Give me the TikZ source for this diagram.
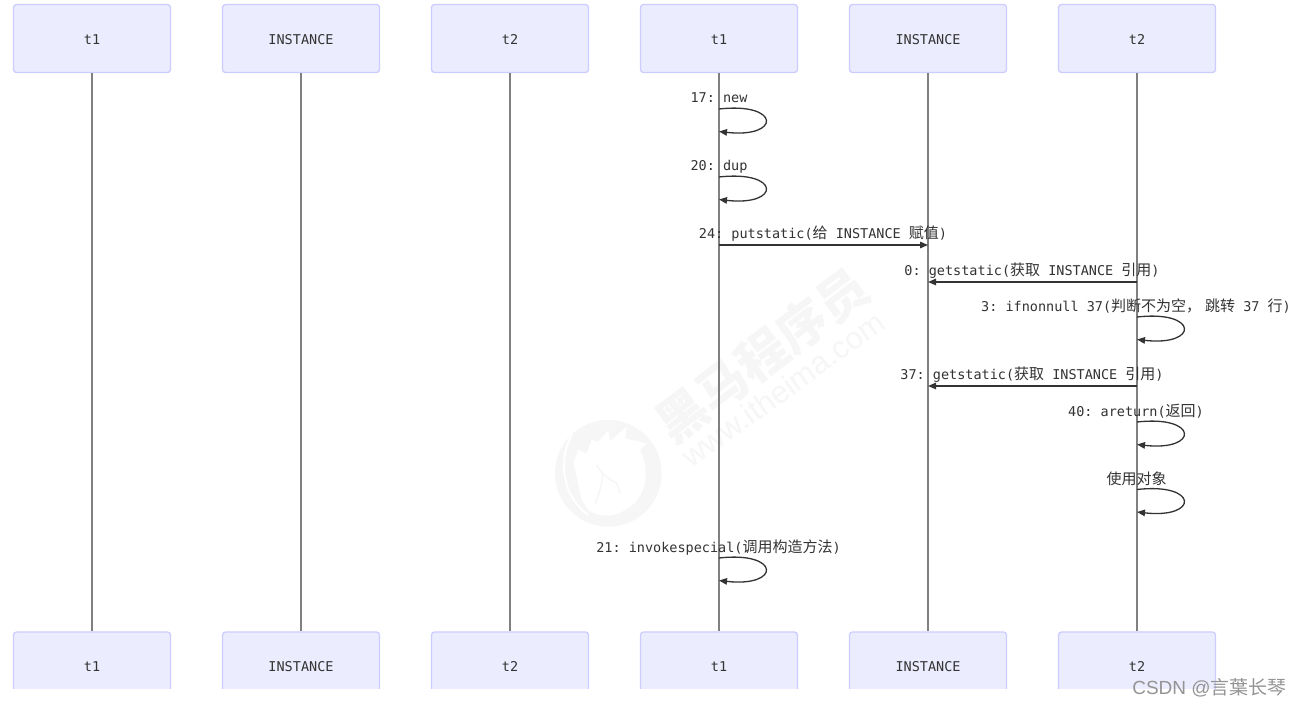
\documentclass[tikz,border=0pt]{standalone}
\usepackage{fontspec}
\setmainfont{DejaVu Sans Mono}
\newfontfamily\cjkfont{Noto Sans CJK SC}
\newfontfamily\wmfont{Liberation Sans}
\usetikzlibrary{arrows.meta}
\newcommand{\cj}[1]{{\cjkfont\fontsize{15}{16}\selectfont #1}}
\definecolor{boxfill}{HTML}{ECECFF}
\definecolor{boxline}{HTML}{CCCCFF}
\definecolor{ink}{HTML}{333333}
\definecolor{lifecol}{HTML}{808080}
\definecolor{wmcol}{HTML}{F6F6F6}
\tikzset{
  x=1pt,y=-1pt,
  actorbox/.style={draw=boxline,fill=boxfill,line width=1.3pt,rounded corners=3pt,minimum width=157pt,minimum height=68pt,inner sep=0pt,text=ink,text height=12pt,text depth=1pt,font=\fontsize{13.5}{16}\selectfont},
  topbox/.style={actorbox,text height=13pt},
  lifeline/.style={draw=lifecol,line width=1.7pt},
  msg/.style={draw=ink,line width=1.4pt,-{Stealth[length=8pt,width=6.5pt,inset=0pt]}},
  loopmsg/.style={draw=ink,line width=1.3pt,-{Stealth[length=8pt,width=6.5pt,inset=0pt]}},
  msglabel/.style={inner sep=0pt,text=ink,text height=12pt,text depth=3pt,font=\frenchspacing\fontsize{13.5}{16}\selectfont,anchor=center},
  wmbig/.style={inner sep=0pt,text=wmcol,rotate=37,font=\cjkfont\bfseries\fontsize{50}{52}\selectfont},
  wmsmall/.style={inner sep=0pt,text=wmcol,rotate=35.6,font=\wmfont\fontsize{31}{33}\selectfont},
  stamp/.style={inner sep=0pt,text=black!42,font=\frenchspacing\wmfont\fontsize{19}{20}\selectfont}
}
\begin{document}
\begin{tikzpicture}
\useasboundingbox (0,0) rectangle (1300,706);
\fill[white] (0,0) rectangle (1300,706);
% faint background watermark: logo
\begin{scope}[shift={(545,410)},x=0.3333pt,y=-0.3333pt]
  \fill[wmcol] (190,190) circle (160);
  \fill[white] (85,160) -- (100,120) -- (125,130) -- (140,90) -- (160,95) -- (190,60) -- (195,95) -- (245,50) -- (240,85) -- (305,100) -- (285,120)
     .. controls (320,190) and (300,270) .. (240,300) .. controls (200,325) and (160,320) .. (130,300)
     -- (110,270) .. controls (100,230) and (95,190) .. (85,160) -- cycle;
  \draw[white,line width=2pt] (82,72) .. controls (45,130) and (40,250) .. (130,315);
  \draw[wmcol,line width=1.5pt] (155,165) .. controls (165,180) and (170,195) .. (215,220) -- (225,250);
  \draw[wmcol,line width=1.5pt] (175,190) .. controls (170,220) and (165,250) .. (150,280);
\end{scope}
\node[wmbig] (wm1) at (762,355) {黑马程序员};
\node[wmsmall] (wm2) at (783,389) {www.itheima.com};
% top actors
\foreach \n/\x/\t in {a/92/t1,b/301/INSTANCE,c/510/t2,d/719/t1,e/928/INSTANCE,f/1137/t2}{
  \node[topbox] (\n top) at (\x,38.5) {\t};
  \node[actorbox] (\n bot) at (\x,666) {\t};
  \draw[lifeline] (\n top.south) -- (\n bot.north);
}
% bottom boxes are cut off by the page strip
\fill[white] (0,689) rectangle (1300,706);
% self messages
\foreach \n/\x/\ya/\yb in {l1/719/109/131.5,l2/719/177/199.5,l3/1137/317/339.5,l4/1137/422/444.5,l5/1137/489.5/512,l6/719/558/580.5}{
  \coordinate (\n s) at (\x,\ya);
  \coordinate (\n e) at (\x,\yb);
  \draw[loopmsg] (\n s) .. controls +(62,-7) and +(62,7) .. (\n e);
}
% straight messages
\coordinate (m1s) at (719,245); \coordinate (m1e) at (928,245);
\coordinate (m2s) at (1137,282); \coordinate (m2e) at (928,282);
\coordinate (m3s) at (1137,386); \coordinate (m3e) at (928,386);
\draw[msg] (m1s) -- (m1e);
\draw[msg] (m2s) -- (m2e);
\draw[msg] (m3s) -- (m3e);
% labels
\node[msglabel] (t1) at (719,98) {17: new};
\node[msglabel] (t2) at (719,166) {20: dup};
\node[msglabel] (t3) at (823,233.5) {24: putstatic(\cj{给} INSTANCE \cj{赋值})};
\node[msglabel] (t4) at (1032,271) {0: getstatic(\cj{获取} INSTANCE \cj{引用})};
\node[msglabel] (t5) at (1136,306.5) {3: ifnonnull 37(\cj{判断不为空，}\hspace{4pt}\cj{跳转} 37 \cj{行})};
\node[msglabel] (t6) at (1032,374.5) {37: getstatic(\cj{获取} INSTANCE \cj{引用})};
\node[msglabel] (t7) at (1136,411.5) {40: areturn(\cj{返回})};
\node[msglabel] (t8) at (1136.5,480) {\cj{使用对象}};
\node[msglabel] (t9) at (718.5,547.5) {21: invokespecial(\cj{调用构造方法})};
% corner stamp
\node[stamp,anchor=center] (csdn) at (1209.5,687.5) {CSDN @{\cjkfont 言葉长琴}};
\end{tikzpicture}
\end{document}
